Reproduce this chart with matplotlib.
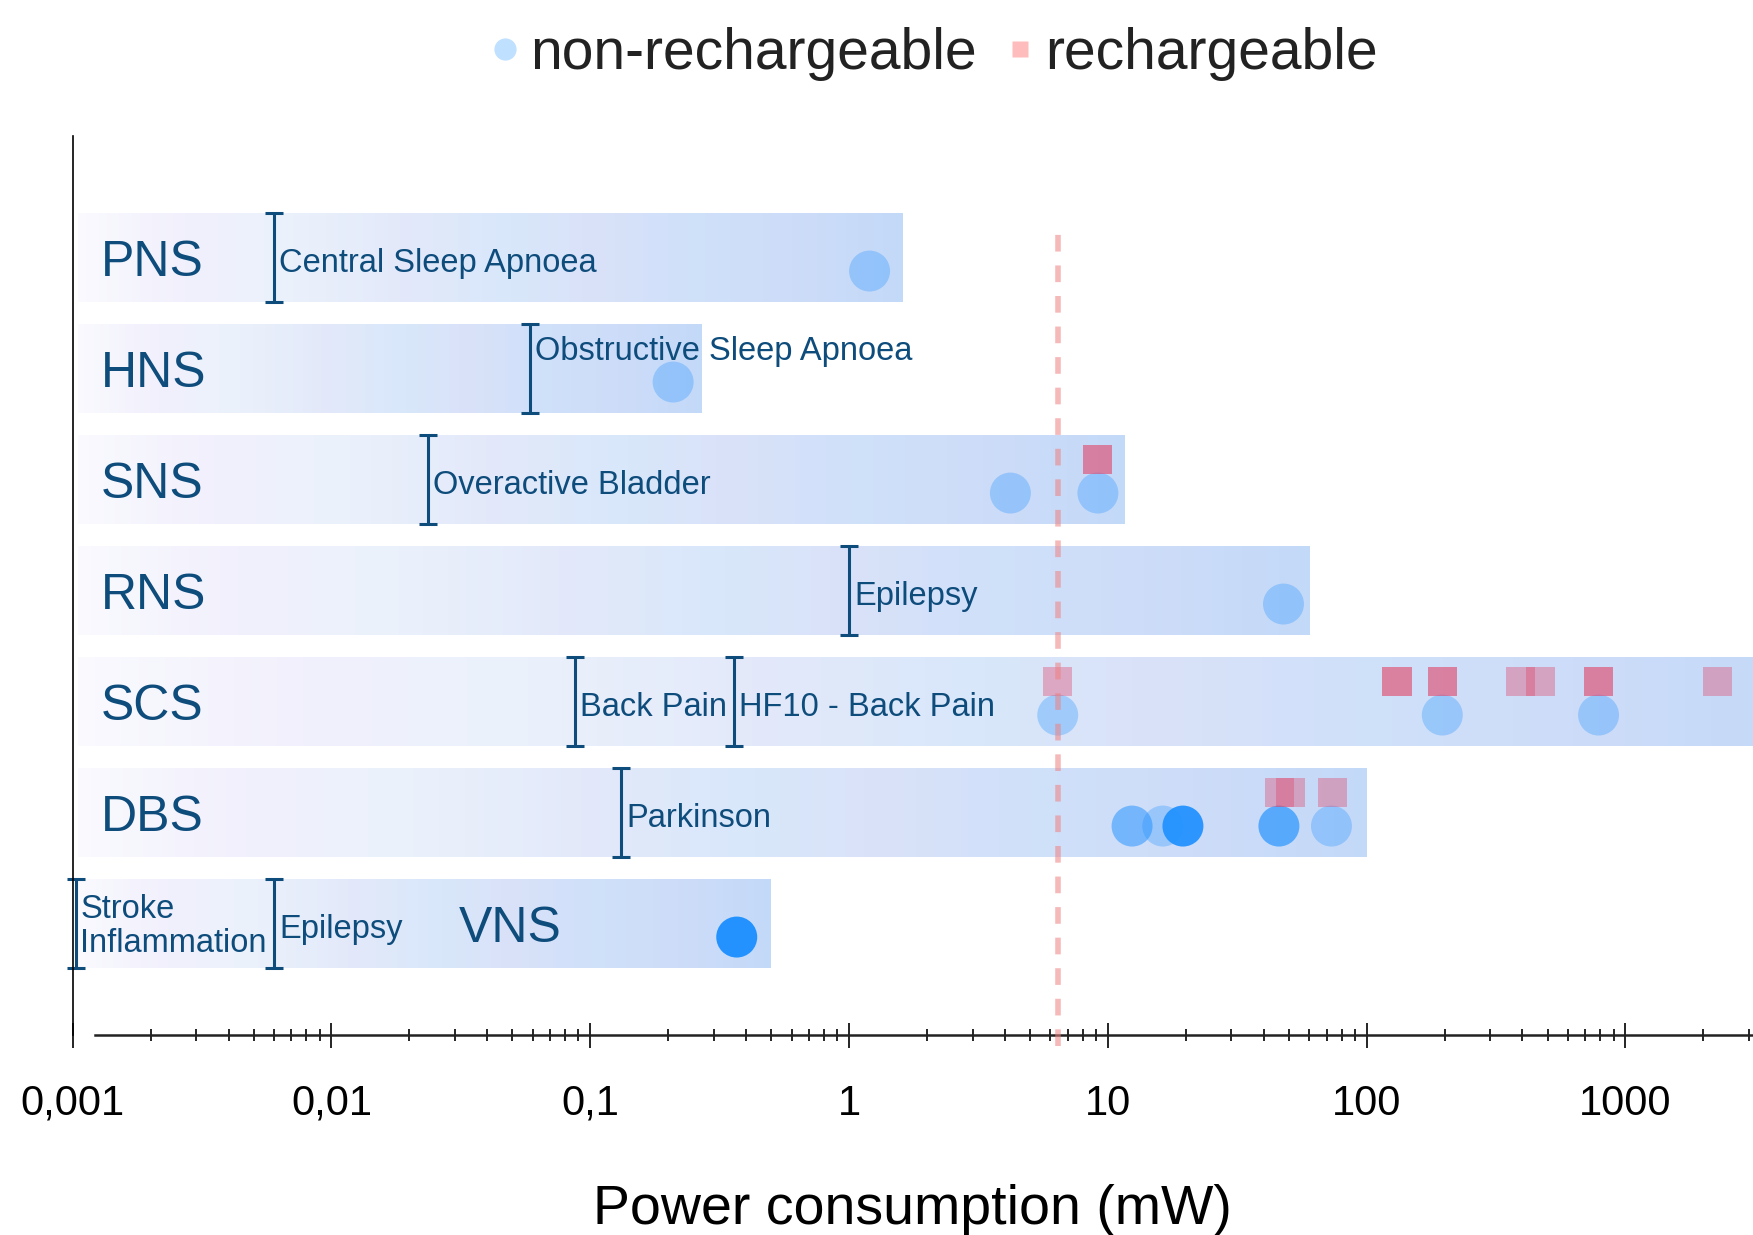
import numpy as np
import matplotlib
matplotlib.use('Agg')
import matplotlib.pyplot as plt
from matplotlib.colors import LinearSegmentedColormap, to_rgba
from matplotlib.lines import Line2D
from matplotlib.ticker import LogLocator, NullFormatter, FixedLocator, FixedFormatter

plt.rcParams['font.family'] = ['Liberation Sans', 'DejaVu Sans']

# stimulation types, top to bottom
categories = ['PNS', 'HNS', 'SNS', 'RNS', 'SCS', 'DBS', 'VNS']
bar_start = 0.00105
bar_end = [1.62, 0.27, 11.6, 60.5, 5000, 100, 0.50]

# indications (row, lower bound in mW, label)
ind_row = ['PNS', 'HNS', 'SNS', 'RNS', 'SCS', 'SCS', 'DBS', 'VNS', 'VNS']
ind_power = [0.006, 0.0585, 0.0237, 1.0, 0.087, 0.36, 0.132, 0.00103, 0.006]
ind_label = ['Central Sleep Apnoea', 'Obstructive Sleep Apnoea', 'Overactive Bladder',
             'Epilepsy', 'Back Pain', 'HF10 - Back Pain', 'Parkinson',
             'Stroke\nInflammation', 'Epilepsy']

# non-rechargeable devices (count = devices at same power)
nr_row = ['PNS', 'HNS', 'SNS', 'SNS', 'RNS', 'SCS', 'SCS', 'SCS',
          'DBS', 'DBS', 'DBS', 'DBS', 'DBS', 'VNS']
nr_power = [1.20, 0.209, 4.2, 9.15, 47.7, 6.4, 196, 787,
            12.4, 16.3, 19.5, 45.8, 73.1, 0.368]
nr_count = [1, 1, 1, 1, 1, 1, 1, 1, 2, 1, 7, 3, 1, 10]

# rechargeable devices
r_row = ['SNS', 'SCS', 'SCS', 'SCS', 'SCS', 'SCS', 'SCS', 'SCS', 'DBS', 'DBS', 'DBS']
r_power = [9.15, 6.4, 131, 196, 393, 468, 787, 2260, 46.2, 50.8, 73.5]
r_count = [2, 1, 2, 2, 1, 1, 2, 1, 1, 1, 1]

threshold = 6.4
xticks = [0.001, 0.01, 0.1, 1, 10, 100, 1000]
xticklabels = ['0,001', '0,01', '0,1', '1', '10', '100', '1000']

dark = '#0e4c7c'
blue = '#1e90ff'
red = '#e14669'

ypos = {c: len(categories) - 1 - i for i, c in enumerate(categories)}

fig = plt.figure(figsize=(17.53, 12.35), dpi=100)
ax = fig.add_axes([72.7 / 1753, 1 - 1035.3 / 1235, 1 - 72.7 / 1753, (1035.3 - 136.4) / 1235])
ax.set_xscale('log')
ax.set_xlim(0.001, 3110)
ax.set_ylim(-1.005, 7.093)

grad = LinearSegmentedColormap.from_list('bar', [
    (0.0, '#f9f9fe'), (0.12, '#f1f0fc'), (0.25, '#eaf1fb'), (0.40, '#e2e8f9'),
    (0.52, '#d8e7fa'), (0.62, '#d9e1f8'), (0.75, '#cfe0f9'), (0.86, '#cddcf8'),
    (1.0, '#c3d9f8')])

h = 0.8
for c, end in zip(categories, bar_end):
    y = ypos[c]
    xe = np.logspace(np.log10(bar_start), np.log10(end), 201)
    ye = [y - h / 2, y + h / 2]
    C = np.linspace(0, 1, 200)[None, :]
    ax.pcolormesh(xe, ye, C, cmap=grad, vmin=0, vmax=1, shading='flat',
                  antialiased=False, linewidth=0, zorder=1)
    lx = 0.031 if c == 'VNS' else 0.00128
    ax.annotate(c, (lx, y), xytext=(0, -0.358 * 36), textcoords='offset points',
                fontsize=36, color=dark, va='baseline', ha='left', zorder=3)

for r, p, lab in zip(ind_row, ind_power, ind_label):
    y = ypos[r]
    eb = ax.errorbar([p], [y], yerr=0.4, fmt='none', ecolor=dark, elinewidth=2.2,
                     capsize=6.5, capthick=2.2, zorder=2)
    for art in list(eb.lines[1]) + list(eb.lines[2]):
        art.set_clip_on(False)
    if '\n' in lab:
        ax.annotate(lab, (p, y), xytext=(3, -2), textcoords='offset points',
                    fontsize=23.5, color=dark, va='center', ha='left',
                    linespacing=1.1, zorder=3)
    else:
        dy = 0.21 if lab.startswith('Obstructive') else 0
        ax.annotate(lab, (p, y + dy), xytext=(3.5, -0.358 * 23.5 - 2),
                    textcoords='offset points', fontsize=23.5, color=dark,
                    va='baseline', ha='left', zorder=3)

nr_y = [ypos[r] - 0.12 for r in nr_row]
nr_col = [to_rgba(blue, 1 - 0.7 ** n) for n in nr_count]
ax.scatter(nr_power, nr_y, s=870, c=nr_col, marker='o', edgecolors='none', zorder=4)

r_y = [ypos[r] + 0.18 for r in r_row]
r_col = [to_rgba(red, 1 - 0.62 ** n) for n in r_count]
ax.scatter(r_power, r_y, s=440, c=r_col, marker='s', edgecolors='none', zorder=5)

ax.axvline(threshold, ymin=-0.012, ymax=0.903, color='#f08080', alpha=0.55,
           lw=4, dashes=(3, 2.5), clip_on=False, zorder=6)

# axes styling
for s in ['top', 'right']:
    ax.spines[s].set_visible(False)
ax.spines['left'].set_linewidth(1.2)
ax.spines['bottom'].set_linewidth(1.8)
ax.spines['bottom'].set_color('#222222')
ax.spines['bottom'].set_bounds(0.00122, 3110)
ax.set_yticks([])
ax.xaxis.set_major_locator(FixedLocator(xticks))
ax.xaxis.set_major_formatter(FixedFormatter(xticklabels))
ax.xaxis.set_minor_locator(LogLocator(base=10, subs=np.arange(2, 10), numticks=20))
ax.xaxis.set_minor_formatter(NullFormatter())
ax.tick_params(axis='x', which='major', direction='inout', length=18, width=1.2,
               labelsize=30, pad=26)
ax.tick_params(axis='x', which='minor', direction='inout', length=8, width=1.2)
ax.set_xlabel('Power consumption (mW)', fontsize=40, labelpad=43)

h1 = Line2D([], [], ls='none', marker='o', markersize=16,
            markerfacecolor=to_rgba(blue, 0.28), markeredgecolor='none')
h2 = Line2D([], [], ls='none', marker='s', markersize=11.5,
            markerfacecolor=to_rgba('#ff6b6b', 0.45), markeredgecolor='none')
fig.legend([h1, h2], ['non-rechargeable', 'rechargeable'], loc='center',
           bbox_to_anchor=(0.533, 0.956), ncol=2, frameon=False, fontsize=41,
           handlelength=0.5, handletextpad=0.2, columnspacing=0.5,
           labelcolor='#222222')

fig.savefig('out.png', dpi=100)
